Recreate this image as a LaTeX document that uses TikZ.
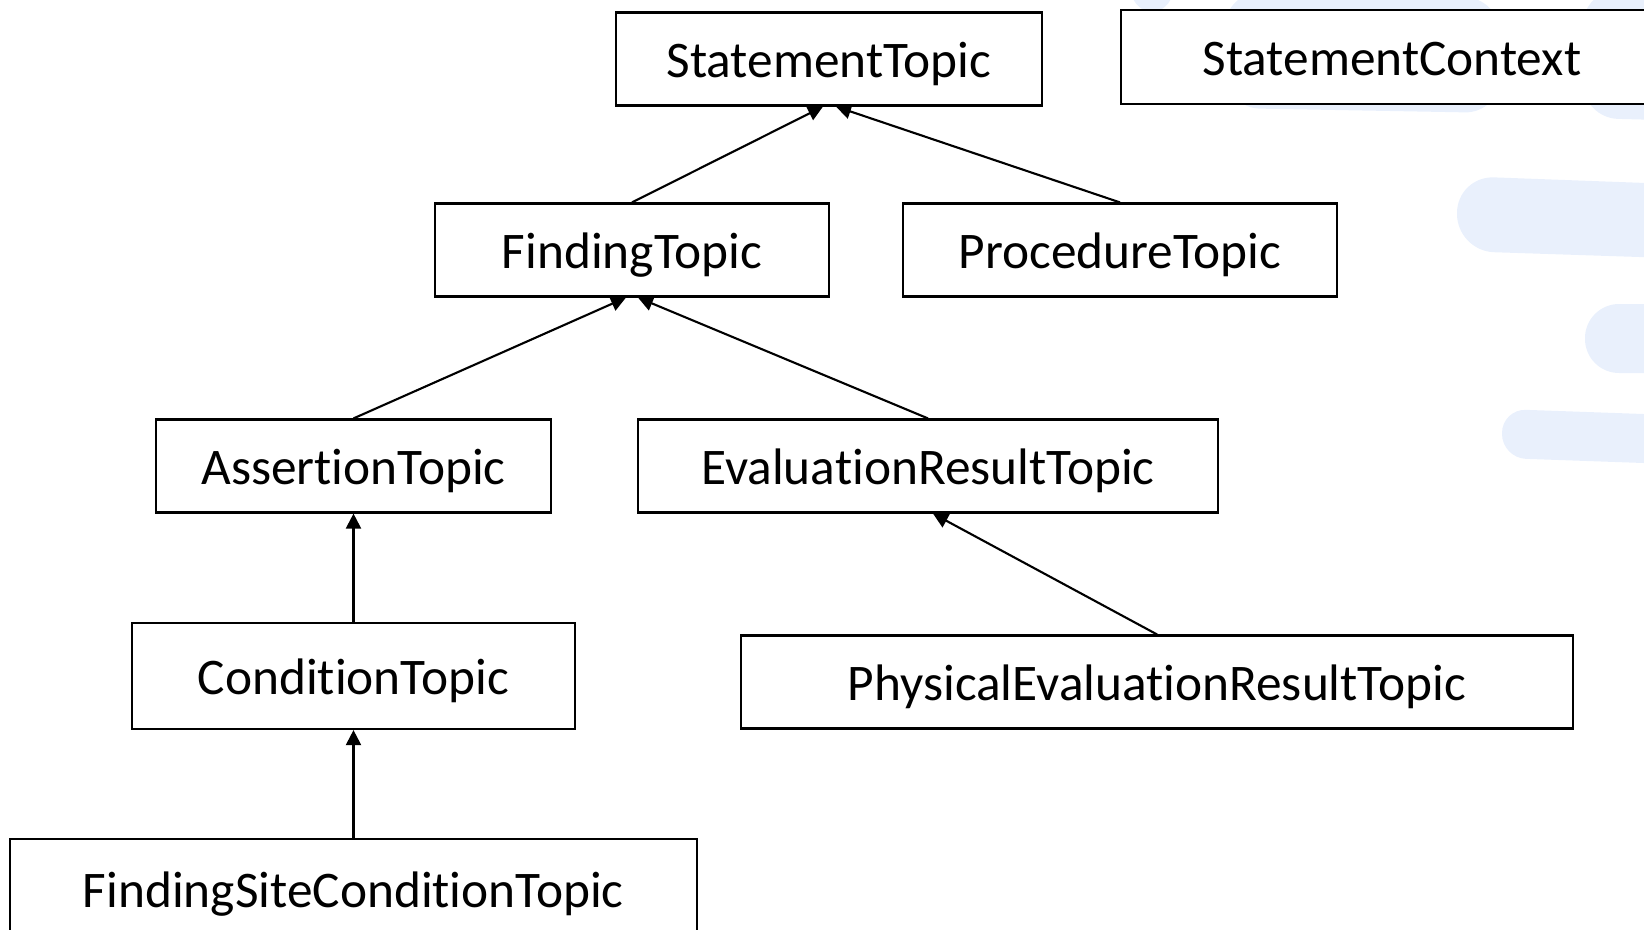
\documentclass[tikz,border=0pt]{standalone}
\usepackage{fontspec}
\setmainfont[Ligatures=NoCommon]{Carlito}
\usepackage{tikz}
\usetikzlibrary{arrows.meta}
\definecolor{bgblue}{RGB}{233,240,252}

\begin{document}
\begin{tikzpicture}[x=0.01cm, y=-0.01cm,
	cls/.style={draw, fill=white, line width=0.6pt, inner sep=0pt, minimum height=0.93cm,
		text height=0.46cm, text depth=0.1cm, font=\fontsize{14.6}{17}\selectfont},
	inh/.style={line width=0.6pt, -{Triangle[length=0.15cm,width=0.15cm]}}]
	\useasboundingbox (0,0) rectangle (1644,930);
	\clip (0,0) rectangle (1644,930);
	% faint shapes in the background
	\fill[bgblue] (1152,-18) ellipse [x radius=0.23cm, y radius=0.3cm];
	\fill[bgblue, rounded corners=0.35cm] (1225,-8) -- (1500,-2) -- (1500,113) -- (1225,108) -- cycle;
	\fill[bgblue, rounded corners=0.35cm] (1583,-10) -- (1700,-10) -- (1700,121) -- (1583,118) -- cycle;
	\fill[bgblue, rounded corners=0.37cm] (1457,176) -- (1700,185) -- (1700,259) -- (1457,251) -- cycle;
	\fill[bgblue, rounded corners=0.34cm] (1585,304) -- (1700,304) -- (1700,373) -- (1585,373) -- cycle;
	\fill[bgblue, rounded corners=0.24cm] (1502,409) -- (1700,416) -- (1700,465) -- (1502,458) -- cycle;
	% classes
	\node[cls, minimum width=4.25cm] (st) at (829,59) {StatementTopic};
	\node[cls, minimum width=5.42cm, minimum height=0.94cm] (sc) at (1392,57) {StatementContext};
	\node[cls, minimum width=3.94cm] (ft) at (632,250) {FindingTopic};
	\node[cls, minimum width=4.33cm] (pt) at (1120,250) {ProcedureTopic};
	\node[cls, minimum width=3.94cm] (at) at (353.5,466) {AssertionTopic};
	\node[cls, minimum width=5.8cm] (ert) at (928,466) {EvaluationResultTopic};
	\node[cls, minimum width=4.43cm, minimum height=1.06cm] (ct) at (353.5,676) {ConditionTopic};
	\node[cls, minimum width=8.32cm] (pert) at (1157,682) {PhysicalEvaluationResultTopic};
	\node[cls, minimum width=6.86cm, minimum height=1.0cm] (fsct) at (353.5,889) {FindingSiteConditionTopic};
	% generalisations
	\draw [inh] (ft.north) to ([xshift=-0.06cm]st.south);
	\draw [inh] (pt.north) to ([xshift=0.07cm]st.south);
	\draw [inh] (at.north) to ([xshift=-0.06cm]ft.south);
	\draw [inh] (ert.north) to ([xshift=0.06cm]ft.south);
	\draw [inh] (ct.north) to (at.south);
	\draw [inh] (pert.north) to ([xshift=0.05cm]ert.south);
	\draw [inh] (fsct.north) to (ct.south);
\end{tikzpicture}
\end{document}
